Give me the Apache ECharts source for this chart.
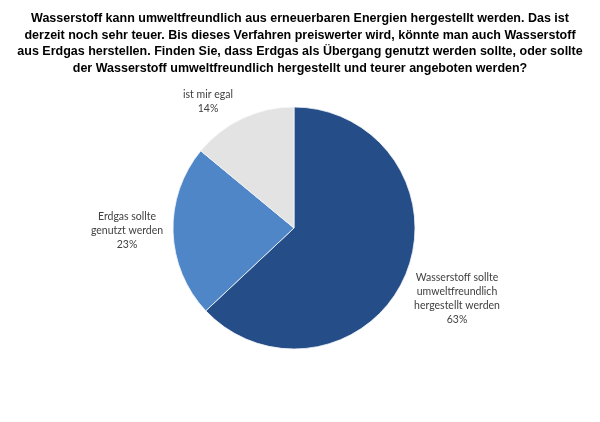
<!DOCTYPE html>
<html>
<head>
<meta charset="utf-8">
<script src="https://cdn.jsdelivr.net/npm/echarts@6/dist/echarts.min.js"></script>
<style>
html,body{margin:0;padding:0;background:#fff;}
#chart{width:600px;height:422px;}
</style>
</head>
<body>
<div id="chart"></div>
<script>
var titleLines = [
	'Wasserstoff kann umweltfreundlich aus erneuerbaren Energien hergestellt werden. Das ist',
	'derzeit noch sehr teuer. Bis dieses Verfahren preiswerter wird, könnte man auch Wasserstoff',
	'aus Erdgas herstellen. Finden Sie, dass Erdgas als Übergang genutzt werden sollte, oder sollte',
	'der Wasserstoff umweltfreundlich hergestellt und teurer angeboten werden?'
];
var categories = ['Wasserstoff sollte\numweltfreundlich\nhergestellt werden', 'Erdgas sollte\ngenutzt werden', 'ist mir egal'];
var values = [63, 23, 14];
var colors = ['#254E88', '#4F86C7', '#E3E3E3'];

// label centres (px), placed like the original
var labelPos = [[457, 298.5], [127, 230.5], [208, 101.5]];

var d = [];
for (var i = 0; i < categories.length; i++) {
	d.push({ value: values[i], name: categories[i], itemStyle: { color: colors[i] } });
}

var option = {
	backgroundColor: '#fff',
	animation: false,
	title: {
		text: titleLines.join('\n'),
		left: 'center',
		top: 5,
		textStyle: {
			fontFamily: 'Liberation Sans, Arial',
			fontSize: 12.5,
			fontWeight: 'bold',
			color: '#000',
			lineHeight: 16.7
		}
	},
	series: [
		{
			type: 'pie',
			center: [294, 228],
			radius: 121,
			startAngle: 90,
			clockwise: true,
			itemStyle: { borderColor: '#f4f6fa', borderWidth: 0.8 },
			label: {
				show: true,
				position: 'outside',
				formatter: '{b}\n{c}%',
				fontFamily: 'Lato, Open Sans, sans-serif',
				fontSize: 10.5,
				lineHeight: 14,
				color: '#404040',
				align: 'center'
			},
			labelLine: { show: false },
			labelLayout: function (p) {
				var pos = labelPos[p.dataIndex];
				return { x: pos[0], y: pos[1], align: 'center', verticalAlign: 'middle' };
			},
			data: d
		}
	]
};
var mychart = echarts.init(document.getElementById('chart'));
mychart.setOption(option);
</script>
</body>
</html>
